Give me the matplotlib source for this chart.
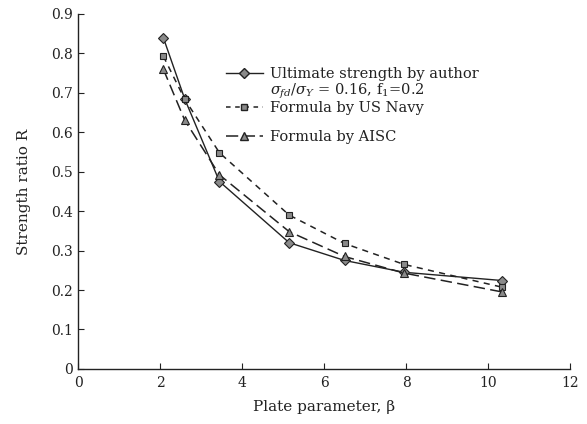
import matplotlib
matplotlib.use('Agg')
import matplotlib.pyplot as plt
from matplotlib.lines import Line2D

# plate parameter beta
beta = [2.08, 2.6, 3.45, 5.15, 6.5, 7.95, 10.35]

# strength ratio R
r_author = [0.84, 0.685, 0.475, 0.32, 0.275, 0.245, 0.224]
r_navy = [0.793, 0.684, 0.548, 0.39, 0.318, 0.265, 0.207]
r_aisc = [0.76, 0.631, 0.492, 0.348, 0.285, 0.243, 0.195]

x_ticks = [0, 2, 4, 6, 8, 10, 12]
y_ticks = [0, 0.1, 0.2, 0.3, 0.4, 0.5, 0.6, 0.7, 0.8, 0.9]
y_labels = ['0', '0.1', '0.2', '0.3', '0.4', '0.5', '0.6', '0.7', '0.8', '0.9']

plt.rcParams['font.family'] = ['DejaVu Serif']
plt.rcParams['mathtext.fontset'] = 'dejavuserif'

fig = plt.figure(figsize=(5.87, 4.24), dpi=100)
ax = fig.add_axes([0.133, 0.13, 0.838, 0.837])

ink = '#222222'
fill = '#8a8a8a'

ax.plot(beta, r_author, color=ink, lw=1.0, marker='D', ms=5,
        mfc=fill, mec=ink, mew=0.8)
ax.plot(beta, r_navy, color=ink, lw=1.1, dashes=(4, 3.5), marker='s', ms=5,
        mfc=fill, mec=ink, mew=0.8)
ax.plot(beta, r_aisc, color=ink, lw=1.1, dashes=(7.5, 3.5), marker='^', ms=6,
        mfc=fill, mec=ink, mew=0.8)

ax.set_xlim(0, 12)
ax.set_ylim(0, 0.9)
ax.set_xticks(x_ticks)
ax.set_yticks(y_ticks)
ax.set_yticklabels(y_labels)
ax.tick_params(direction='in', length=4, width=0.8, labelsize=10, colors=ink)
ax.tick_params(axis='x', pad=5)
for s in ['top', 'right']:
    ax.spines[s].set_visible(False)
for s in ['left', 'bottom']:
    ax.spines[s].set_linewidth(1.0)
    ax.spines[s].set_color(ink)

ax.set_xlabel('Plate parameter, β', fontsize=11, color=ink, labelpad=7)
ax.set_ylabel('Strength ratio R', fontsize=11, color=ink, labelpad=15)

blank = Line2D([], [], linestyle='none')
handles = [
    Line2D([], [], color=ink, lw=1.0, marker='D', ms=5, mfc=fill, mec=ink),
    blank,
    Line2D([], [], color=ink, lw=1.1, dashes=(3, 3), marker='s', ms=5, mfc=fill, mec=ink),
    blank,
    Line2D([], [], color=ink, lw=1.1, dashes=(8, 3), marker='^', ms=6, mfc=fill, mec=ink),
]
labels = [
    'Ultimate strength by author',
    r'$\sigma_{fd}/\sigma_{Y}$ = 0.16, f$_1$=0.2',
    'Formula by US Navy',
    ' ',
    'Formula by AISC',
]
ax.legend(handles, labels, loc='upper left', bbox_to_anchor=(0.285, 0.872),
          frameon=False, fontsize=10.5, handlelength=2.55, handletextpad=0.5,
          labelspacing=0.04, borderpad=0, labelcolor=ink)

fig.savefig('out.png', dpi=100)
